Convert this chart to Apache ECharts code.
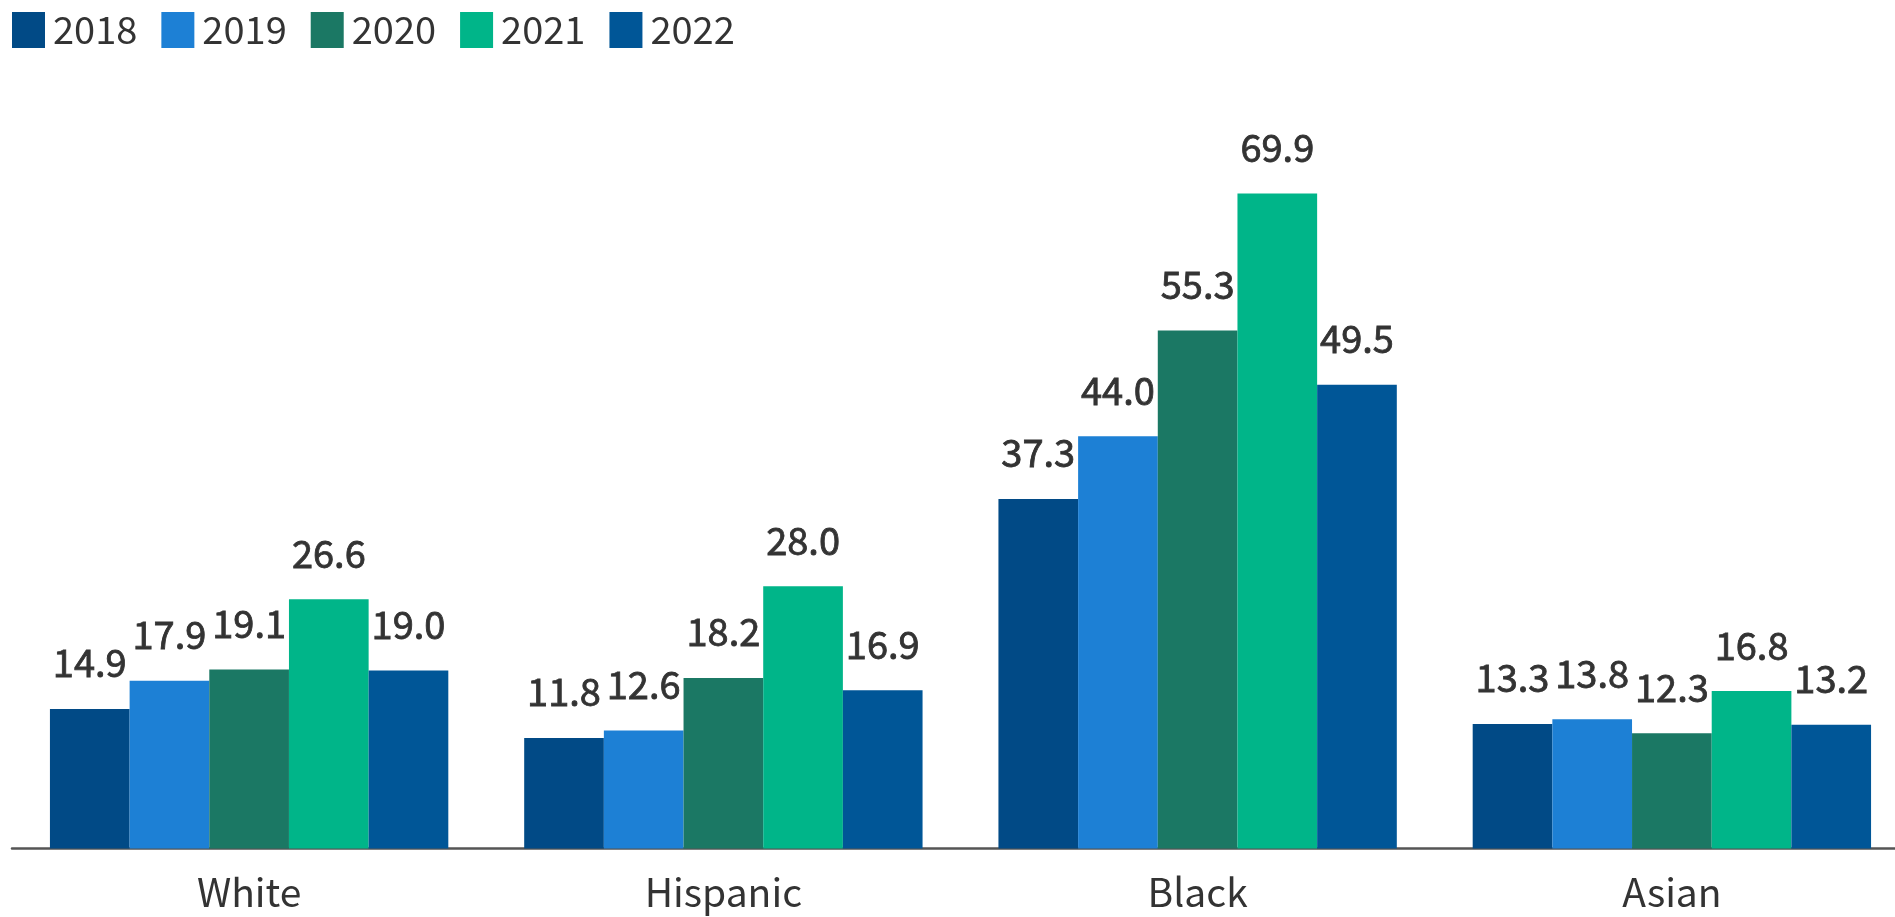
<!DOCTYPE html>
<html>
<head>
<meta charset="utf-8">
<script src="https://cdn.jsdelivr.net/npm/echarts@6/dist/echarts.min.js"></script>
<style>
html,body{margin:0;padding:0;background:#fff;overflow:hidden;}
#chart{width:1912px;height:917px;}
</style>
</head>
<body>
<div id="chart"></div>
<script>
const categories = ['White', 'Hispanic', 'Black', 'Asian'];
const seriesNames = ['2018', '2019', '2020', '2021', '2022'];
const v2018 = [14.9, 11.8, 37.3, 13.3];
const v2019 = [17.9, 12.6, 44.0, 13.8];
const v2020 = [19.1, 18.2, 55.3, 12.3];
const v2021 = [26.6, 28.0, 69.9, 16.8];
const v2022 = [19.0, 16.9, 49.5, 13.2];
const colors = ['#014a86', '#1d80d5', '#1b7864', '#00b589', '#005697'];

const values = [v2018, v2019, v2020, v2021, v2022];
const FONT = '"Noto Sans CJK SC", "Source Sans Pro", sans-serif';

const chart = echarts.init(document.getElementById('chart'));
chart.setOption({
  animation: false,
  color: colors,
  textStyle: { fontFamily: FONT },
  legend: {
    left: 7, top: 6,
    itemWidth: 33, itemHeight: 36, itemGap: 24,
    icon: 'rect',
    textStyle: { fontSize: 38, color: '#333', fontFamily: FONT, padding: [0, 0, 0, 3] },
    data: seriesNames
  },
  grid: { left: 12, width: 1897, top: 99, bottom: 68.5, containLabel: false },
  xAxis: {
    type: 'category',
    data: categories,
    axisLine: { lineStyle: { color: '#555', width: 2.5 } },
    axisTick: { show: false },
    axisLabel: { fontSize: 39, color: '#333', margin: 24, fontFamily: FONT }
  },
  yAxis: {
    type: 'value', min: 0, max: 80,
    show: false,
    splitLine: { show: false }
  },
  series: seriesNames.map((n, i) => ({
    name: n,
    type: 'bar',
    data: values[i],
    barGap: '0%',
    barCategoryGap: '16%',
    itemStyle: { color: colors[i] },
    label: {
      show: true, position: 'top', distance: 27,
      fontSize: 38, color: '#333', fontFamily: FONT,
      textBorderColor: '#333', textBorderWidth: 0.8,
      formatter: p => p.value.toFixed(1)
    }
  }))
});
</script>
</body>
</html>
